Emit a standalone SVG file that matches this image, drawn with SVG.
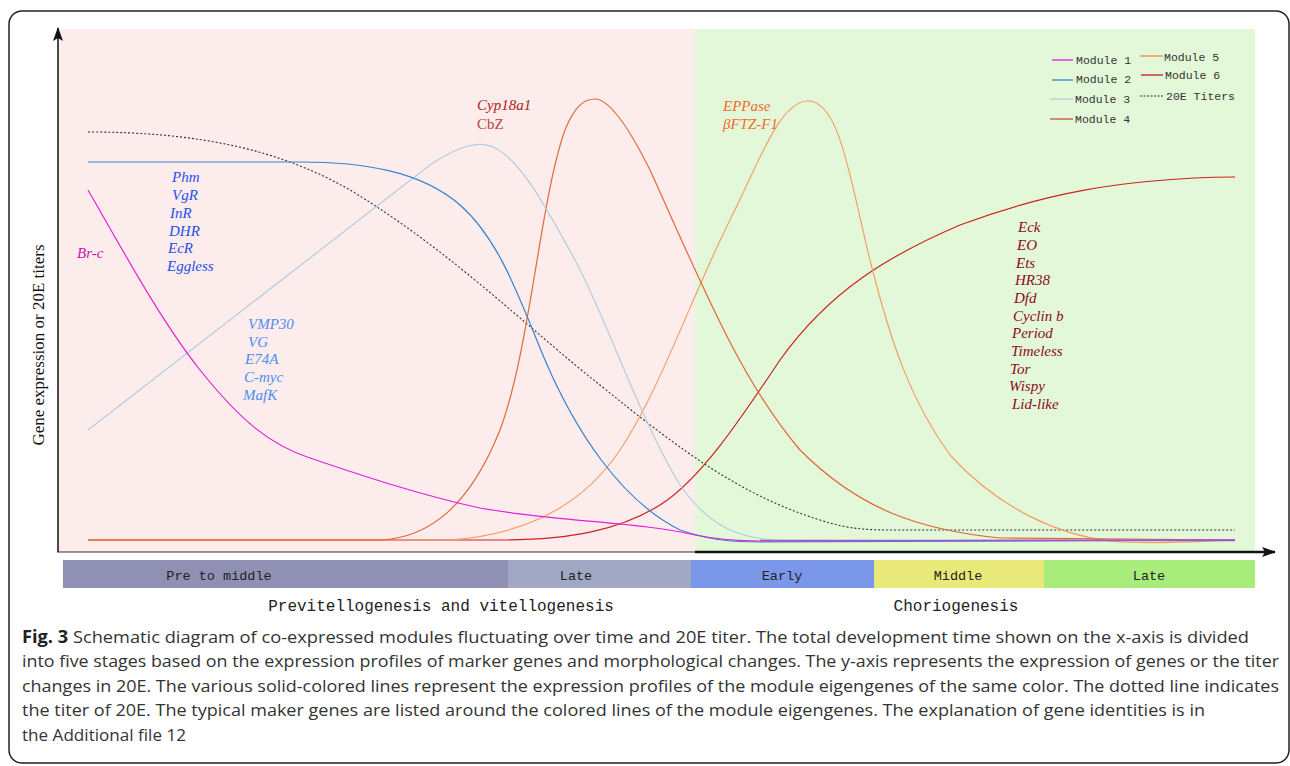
<svg xmlns="http://www.w3.org/2000/svg" width="1290" height="766" viewBox="0 0 1290 766">
<style>
.curve{fill:none;stroke-width:1.2}
.m1{stroke:#e020d8}.m2{stroke:#3a82cc}.m3{stroke:#b4cce2}.m4{stroke:#e0683a}.m5{stroke:#f2a066}.m6{stroke:#cc2222}
.titer{fill:none;stroke:#333;stroke-width:1.1;stroke-dasharray:2,2}
.leg{font-family:"Liberation Mono",monospace;font-size:11.5px;fill:#333}
.gene{font-family:"Liberation Serif",serif;font-style:italic;font-size:15px}
.stage{font-family:"Liberation Mono",monospace;font-size:13.5px;fill:#222;text-anchor:middle}
.phase{font-family:"Liberation Mono",monospace;font-size:16px;fill:#222;text-anchor:middle}
.cap{font-family:"Open Sans",sans-serif;font-size:17px;fill:#333}
</style>
<defs>
<marker id="arr" viewBox="0 0 14 10" refX="13" refY="5" markerWidth="14" markerHeight="10" markerUnits="userSpaceOnUse" orient="auto">
<path d="M0,0 L14,5 L0,10 L3,5 Z" fill="#111"/>
</marker>
</defs>
<rect x="9" y="11" width="1280" height="752" rx="13" fill="#fff" stroke="#222" stroke-width="1.5"/>
<g id="background">
<rect x="58" y="29" width="637" height="523" fill="#fcecec"/>
<rect x="695" y="29" width="560" height="523" fill="#e3f8d8"/>
<line x1="57" y1="552" x2="697" y2="552" stroke="#333" stroke-width="1"/>
</g>
<g id="axes">
<line x1="58" y1="552" x2="58" y2="28" stroke="#111" stroke-width="1.5" marker-end="url(#arr)"/>
<line x1="695" y1="552" x2="1275" y2="552" stroke="#111" stroke-width="2.5" marker-end="url(#arr)"/>
<text x="44" y="345" transform="rotate(-90 44 345)" text-anchor="middle" font-family="Liberation Serif, serif" font-size="17" fill="#111">Gene expression or 20E titers</text>
</g>
<g id="connectors">
<path class="titer" d="M88,132 C200,132 280,150 350,190 C450,250 530,330 600,385 C680,450 740,495 820,520 C850,530 870,530 900,530 L1235,530"/>
<path class="curve m6" d="M88,540 L500,540 C570,540 620,530 660,505 C700,480 740,420 780,360 C830,290 890,255 960,225 C1040,195 1120,178 1235,177"/>
<path class="curve m5" d="M88,540 L450,540 C520,535 580,510 620,450 C660,390 690,300 730,220 C760,160 780,101 808,101 C840,101 850,180 870,260 C890,340 910,400 950,455 C1000,510 1060,535 1110,541 C1150,545 1200,541 1235,540"/>
<path class="curve m4" d="M88,540 L380,540 C430,538 470,505 500,430 C530,350 540,200 565,130 C575,105 585,99 595,99 C610,99 630,130 650,170 C700,280 740,380 800,450 C860,510 920,530 1000,538 L1235,540"/>
<path class="curve m3" d="M88,430 L430,165 C460,145 480,140 495,148 C520,160 545,205 575,260 C605,315 640,420 680,485 C710,528 740,540 790,541 L1235,540"/>
<path class="curve m2" d="M88,162 L300,162 C360,162 420,170 460,205 C500,240 520,300 545,360 C575,430 620,500 680,530 C710,540 730,542 760,542 L1235,540"/>
<path class="curve m1" d="M88,190 C120,245 160,320 200,370 C240,420 270,445 310,458 C360,475 420,495 480,508 C560,522 640,522 695,535 C720,540 740,541 760,541 L1235,540"/>
<line x1="760" y1="540.5" x2="1235" y2="540.5" stroke="#9a5ac8" stroke-width="1.3"/>
</g>
<g id="legend">
<line x1="1052" y1="60" x2="1073" y2="60" class="m1" stroke-width="1.3"/>
<text class="leg" x="1076" y="64">Module 1</text>
<line x1="1052" y1="80" x2="1073" y2="80" class="m2" stroke-width="1.3"/>
<text class="leg" x="1076" y="83">Module 2</text>
<line x1="1050" y1="99" x2="1073" y2="99" class="m3" stroke-width="1.3"/>
<text class="leg" x="1075" y="103">Module 3</text>
<line x1="1050" y1="119" x2="1073" y2="119" stroke="#c05a28" stroke-width="1.3"/>
<text class="leg" x="1075" y="123">Module 4</text>
<line x1="1140" y1="56" x2="1163" y2="56" stroke="#f08838" stroke-width="1.3"/>
<text class="leg" x="1164" y="61">Module 5</text>
<line x1="1141" y1="75" x2="1163" y2="75" stroke="#d01818" stroke-width="1.3"/>
<text class="leg" x="1165" y="79">Module 6</text>
<line x1="1140" y1="96" x2="1164" y2="96" stroke="#333" stroke-width="1.1" stroke-dasharray="2,1.5"/>
<text class="leg" x="1166" y="100">20E Titers</text>
</g>
<g id="labels-m1">
<text class="gene" x="77" y="258" fill="#d010b0">Br-c</text>
</g>
<g id="labels-m2" fill="#1f50e8">
<text class="gene" x="172" y="182">Phm</text>
<text class="gene" x="172" y="200">VgR</text>
<text class="gene" x="170" y="218">InR</text>
<text class="gene" x="169" y="236">DHR</text>
<text class="gene" x="168" y="253">EcR</text>
<text class="gene" x="167" y="271">Eggless</text>
</g>
<g id="labels-m3" fill="#4e8ef2">
<text class="gene" x="248" y="329">VMP30</text>
<text class="gene" x="248" y="347">VG</text>
<text class="gene" x="245" y="364">E74A</text>
<text class="gene" x="244" y="382">C-myc</text>
<text class="gene" x="243" y="400">MafK</text>
</g>
<g id="labels-m4">
<text class="gene" x="477" y="110" fill="#b02020">Cyp18a1</text>
<text x="477" y="129" font-family="Liberation Serif, serif" font-size="15" fill="#c04040">CbZ</text>
</g>
<g id="labels-m5" fill="#f26a2c">
<text class="gene" x="723" y="111">EPPase</text>
<text class="gene" x="723" y="129">βFTZ-F1</text>
</g>
<g id="labels-m6" fill="#8c0a1c">
<text class="gene" x="1018" y="232">Eck</text>
<text class="gene" x="1017" y="250">EO</text>
<text class="gene" x="1016" y="268">Ets</text>
<text class="gene" x="1015" y="285">HR38</text>
<text class="gene" x="1014" y="303">Dfd</text>
<text class="gene" x="1013" y="321">Cyclin b</text>
<text class="gene" x="1012" y="338">Period</text>
<text class="gene" x="1011" y="356">Timeless</text>
<text class="gene" x="1010" y="374">Tor</text>
<text class="gene" x="1009" y="391">Wispy</text>
<text class="gene" x="1012" y="409">Lid-like</text>
</g>
<g id="stages">
<rect x="63" y="560" width="445" height="28" fill="#9090b4"/>
<rect x="508" y="560" width="183" height="28" fill="#a0a8c4"/>
<rect x="691" y="560" width="183" height="28" fill="#7b97e9"/>
<rect x="874" y="560" width="170" height="28" fill="#e9e97a"/>
<rect x="1044" y="560" width="211" height="28" fill="#a8ec7c"/>
<text class="stage" x="219" y="580">Pre to middle</text>
<text class="stage" x="576" y="580">Late</text>
<text class="stage" x="782" y="580">Early</text>
<text class="stage" x="958" y="580">Middle</text>
<text class="stage" x="1149" y="580">Late</text>
<text class="phase" x="441" y="611">Previtellogenesis and vitellogenesis</text>
<text class="phase" x="956" y="611">Choriogenesis</text>
</g>
<g id="caption">
<text class="cap" x="22" y="643" textLength="1227" lengthAdjust="spacingAndGlyphs"><tspan font-weight="bold" fill="#222">Fig. 3</tspan> Schematic diagram of co-expressed modules fluctuating over time and 20E titer. The total development time shown on the x-axis is divided</text>
<text class="cap" x="22" y="667" textLength="1257" lengthAdjust="spacingAndGlyphs">into five stages based on the expression profiles of marker genes and morphological changes. The y-axis represents the expression of genes or the titer</text>
<text class="cap" x="22" y="692" textLength="1257" lengthAdjust="spacingAndGlyphs">changes in 20E. The various solid-colored lines represent the expression profiles of the module eigengenes of the same color. The dotted line indicates</text>
<text class="cap" x="22" y="716" textLength="1183" lengthAdjust="spacingAndGlyphs">the titer of 20E. The typical maker genes are listed around the colored lines of the module eigengenes. The explanation of gene identities is in</text>
<text class="cap" x="22" y="741" textLength="164" lengthAdjust="spacingAndGlyphs">the Additional file 12</text>
</g>
</svg>
